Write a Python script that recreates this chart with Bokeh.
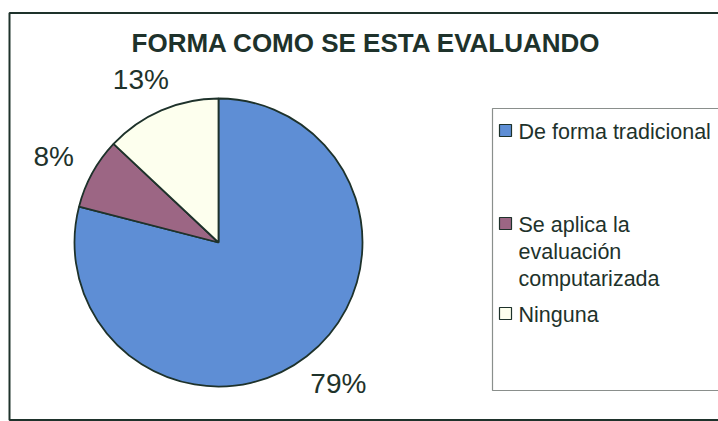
import math
from bokeh.plotting import figure
from bokeh.models import ColumnDataSource, Range1d
from bokeh.core.properties import value
from bokeh.embed import file_html
from bokeh.resources import INLINE

# ---- data ----
title_text = "FORMA COMO SE ESTA EVALUANDO"
categories = ["De forma tradicional", "Se aplica la\nevaluación\ncomputarizada", "Ninguna"]
values = [79, 8, 13]
colors = ["#5E8ED5", "#9C6684", "#FDFFEE"]

# ---- layout (pixels) ----
W, H = 718, 421
FONT = "Liberation Sans"
INK = "#1E322B"
cx, cy, R = 218, 179, 144

p = figure(width=W, height=H, output_backend="svg", toolbar_location=None,
           x_range=Range1d(0, W), y_range=Range1d(0, H), min_border=0,
           background_fill_color="white", border_fill_color="white")
p.axis.visible = False
p.grid.visible = False
p.outline_line_color = None

# outer frame
p.quad(left=[9], right=[740], bottom=[1.5], top=[408.5], fill_color=None,
       line_color=INK, line_width=2)

# title
p.text(x=[366], y=[379], text=[title_text], text_font=value(FONT),
       text_font_size="26px", text_font_style="bold", text_color=INK,
       text_align="center", text_baseline="middle")

# pie
total = float(sum(values))
starts, ends, mids = [], [], []
acc = 0.0
for v in values:
    a0 = math.pi / 2 - acc / total * 2 * math.pi
    acc += v
    a1 = math.pi / 2 - acc / total * 2 * math.pi
    starts.append(a0)
    ends.append(a1)
    mids.append((a0 + a1) / 2)

src = ColumnDataSource(dict(start=starts, end=ends, color=colors))
p.wedge(x=cx, y=cy, radius=R, start_angle="start", end_angle="end",
        direction="clock", fill_color="color", line_color=INK, line_width=1.8,
        source=src)

# percentage labels (placed just outside each slice's mid-angle)
lab_x, lab_y, lab_t = [], [], []
for v, m in zip(values, mids):
    t = "%d%%" % round(v / total * 100)
    ux, uy = math.cos(m), math.sin(m)
    w = 15.0 * len(t) + 10
    h = 20
    r = 168
    lab_x.append(cx + r * ux + w / 2 * ux)
    lab_y.append(cy + r * uy + h / 2 * uy)
    lab_t.append(t)
p.text(x=lab_x, y=lab_y, text=lab_t, text_font=value(FONT), text_font_size="28px",
       text_color=INK, text_align="center", text_baseline="middle")

# legend box
p.quad(left=[492], right=[740], bottom=[31], top=[313], fill_color="white",
       line_color="#8A8F8C", line_width=1.2)
leg_y = [291, 198, 108]
sw = 12
p.rect(x=[505] * 3, y=leg_y, width=sw, height=sw, fill_color=colors,
       line_color=INK, line_width=1.2)
p.text(x=[518] * 3, y=[yy + 11 for yy in leg_y], text=categories,
       text_font=value(FONT), text_font_size="21.5px", text_color=INK,
       text_align="left", text_baseline="top", text_line_height=1.14)

open("out.html", "w").write(file_html(p, INLINE))
